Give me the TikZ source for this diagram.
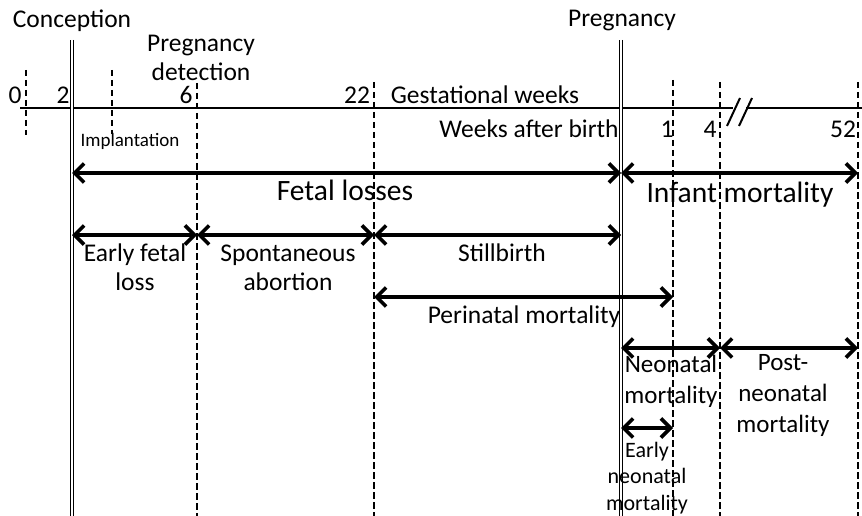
\documentclass[tikz,border=0pt]{standalone}
\usepackage{fontspec}
\setmainfont{Carlito}
\usetikzlibrary{arrows.meta}
\begin{document}
\begin{tikzpicture}[x=1pt,y=-1pt,
  lbl/.style={font=\fontsize{25.5}{29}\selectfont, inner sep=0pt, align=center},
  biglbl/.style={font=\fontsize{29.5}{32}\selectfont, inner sep=0pt},
  smalllbl/.style={font=\fontsize{19}{21}\selectfont, inner sep=0pt},
  dashline/.style={line width=1.8pt, dash pattern=on 6.5pt off 3.5pt},
  dblline/.style={line width=1.1pt, double, double distance=2.4pt},
  spanarrow/.style={line width=3.6pt, {Straight Barb[length=9.5pt,width=19pt]}-{Straight Barb[length=9.5pt,width=19pt]}},
  axisline/.style={line width=2.5pt}]
\useasboundingbox (0,0) rectangle (862,516);
% axis
\coordinate (ax0) at (20,108);
\coordinate (ax1) at (733,108);
\coordinate (ax2) at (746,108);
\coordinate (ax3) at (862,108);
\draw[axisline] (ax0) -- (ax1);
\draw[axisline] (ax2) -- (ax3);
\coordinate (br1a) at (727,126); \coordinate (br1b) at (740,98);
\coordinate (br2a) at (739,126); \coordinate (br2b) at (752,98);
\draw[line width=2pt] (br1a) -- (br1b);
\draw[line width=2pt] (br2a) -- (br2b);
% vertical lines
\coordinate (w0t) at (26,70);   \coordinate (w0b) at (26,135);
\coordinate (impt) at (112,70); \coordinate (impb) at (112,134);
\coordinate (conct) at (72,40); \coordinate (concb) at (72,516);
\coordinate (w6t) at (197,83);  \coordinate (w6b) at (197,516);
\coordinate (w22t) at (374,82); \coordinate (w22b) at (374,516);
\coordinate (pregt) at (621,40); \coordinate (pregb) at (621,516);
\coordinate (b1t) at (673,80);  \coordinate (b1b) at (673,516);
\coordinate (b4t) at (720,82);  \coordinate (b4b) at (720,516);
\coordinate (b52t) at (858,82); \coordinate (b52b) at (858,516);
\draw[dashline] (w0t) -- (w0b);
\draw[dashline] (impt) -- (impb);
\draw[dashline] (w6t) -- (w6b);
\draw[dashline] (w22t) -- (w22b);
\draw[dashline] (b1t) -- (b1b);
\draw[dashline] (b4t) -- (b4b);
\draw[dashline] (b52t) -- (b52b);
\draw[dblline] (conct) -- (concb);
\draw[dblline] (pregt) -- (pregb);
% top labels
\node[lbl] (conception) at (72,21) {Conception};
\node[lbl] (pregdet) at (201,58) {Pregnancy\\detection};
\node[lbl] (pregnancy) at (622,21) {Pregnancy};
\node[lbl] (n0) at (15,95) {0};
\node[lbl] (n2) at (63,95) {2};
\node[lbl] (n6) at (186,95) {6};
\node[lbl] (n22) at (357,95) {22};
\node[lbl] (gest) at (485,95) {Gestational weeks};
\node[lbl] (wab) at (529,129) {Weeks after birth};
\node[lbl] (n1) at (667,129) {1};
\node[lbl] (n4) at (710,129) {4};
\node[lbl] (n52) at (843,129) {52};
\node[smalllbl] (implant) at (130,141) {Implantation};
% arrow end points
\coordinate (fl1) at (72,173);  \coordinate (fl2) at (621,173);
\coordinate (im1) at (621,173); \coordinate (im2) at (858,173);
\coordinate (ef1) at (72,235);  \coordinate (ef2) at (197,235);
\coordinate (sa1) at (197,235); \coordinate (sa2) at (374,235);
\coordinate (sb1) at (374,235); \coordinate (sb2) at (621,235);
\coordinate (pm1) at (374,297); \coordinate (pm2) at (673,297);
\coordinate (nm1) at (621,348); \coordinate (nm2) at (720,348);
\coordinate (pn1) at (720,348); \coordinate (pn2) at (858,348);
\coordinate (en1) at (621,428); \coordinate (en2) at (673,428);
\draw[spanarrow] (fl1) -- (fl2);
\draw[spanarrow] (im1) -- (im2);
\draw[spanarrow] (ef1) -- (ef2);
\draw[spanarrow] (sa1) -- (sa2);
\draw[spanarrow] (sb1) -- (sb2);
\draw[spanarrow] (pm1) -- (pm2);
\draw[spanarrow] (nm1) -- (nm2);
\draw[spanarrow] (pn1) -- (pn2);
\draw[spanarrow] (en1) -- (en2);
% span labels
\node[biglbl] (fetal) at (345,190) {Fetal losses};
\node[biglbl] (infant) at (740,195) {Infant mortality};
\node[lbl] (early) at (135,267) {Early fetal\\loss};
\node[lbl] (spont) at (288,268) {Spontaneous\\abortion};
\node[lbl] (still) at (502,253) {Stillbirth};
\node[lbl] (peri) at (524,317) {Perinatal mortality};
\node[lbl, font=\fontsize{25}{31}\selectfont] (neo) at (671,381) {Neonatal\\mortality};
\node[lbl, font=\fontsize{25}{31}\selectfont] (post) at (783,395) {Post-\\neonatal\\mortality};
\node[lbl, font=\fontsize{22}{26.5}\selectfont] (eneo) at (647,478) {Early\\neonatal\\mortality};
\end{tikzpicture}
\end{document}
